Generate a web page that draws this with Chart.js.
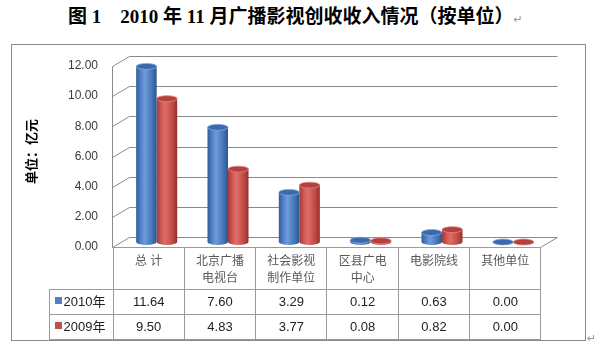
<!DOCTYPE html>
<html>
<head>
<meta charset="utf-8">
<script src="https://cdn.jsdelivr.net/npm/chart.js@4.4.0/dist/chart.umd.min.js"></script>
<style>
    body { margin: 0; background: #fff; width: 601px; height: 350px; overflow: hidden; position: relative; }
    #title { position: absolute; left: 68px; top: 4px; white-space: pre; font: bold 19px "Liberation Serif", "Noto Sans CJK SC", serif; color: #000; line-height: 26px; }
    .mark { font: 11px "DejaVu Sans", sans-serif; color: #999; font-weight: normal; }
    #box { position: absolute; left: 11px; top: 44px; width: 573px; height: 295px; border: 1px solid #8a8a8a; }
    #chart { position: absolute; left: 0; top: 0; }
    #endMark { position: absolute; left: 587px; top: 332px; }
    #tbl { position: absolute; border-collapse: collapse; table-layout: fixed; font-family: "Liberation Sans", "Noto Sans CJK SC", sans-serif; font-size: 12px; color: #222; }
    #tbl td { border: 1px solid #9a9a9a; text-align: center; padding: 0; overflow: hidden; white-space: nowrap; }
    #tbl tr.head td { height: 36px; vertical-align: top; color: #595959; line-height: 17px; padding-top: 5px; }
    #tbl tr.head td.blank { border-top: none; border-left: none; border-bottom: none; }
    #tbl tr.val td { height: 24px; line-height: 24px; font-size: 13px; }
    #tbl td.legend { text-align: left; padding-left: 5px; color: #222; }
    .swatch { display: inline-block; width: 7px; height: 7px; margin-right: 2px; vertical-align: 2px; }
</style>
</head>
<body>
<div id="title">图 1    2010 年 11 月广播影视创收收入情况（按单位）<span class="mark">↵</span></div>
<div id="box"></div>
<canvas id="chart" width="601" height="350"></canvas>
<table id="tbl"></table>
<div id="endMark" class="mark">↵</div>

<script>
const categories = [['总 计'], ['北京广播', '电视台'], ['社会影视', '制作单位'], ['区县广电', '中心'], ['电影院线'], ['其他单位']];
const seriesNames = ['2010年', '2009年'];
const values2010 = [11.64, 7.60, 3.29, 0.12, 0.63, 0.00];
const values2009 = [9.50, 4.83, 3.77, 0.08, 0.82, 0.00];
const yTicks = [0, 2, 4, 6, 8, 10, 12];
const yTitle = '单位：亿元';

const seriesColors = ['#4f81bd', '#c0504d'];
// cylinder shading, left to right
const shades = [
    ['#2e5c9a', '#5b8acf', '#6f9ad8', '#4474b8', '#2b5590'],
    ['#a33a37', '#d6605b', '#dc6d68', '#bf4944', '#922f2d']
];
const tops = [['#3b69ab', '#86abdf'], ['#b2413d', '#e48581']];

const CAT_PCT = 0.575;
const DX = 8.5;   // half depth of the 3D box
const DY = 5;

function barGradient(context) {
    const chart = context.chart;
    const xs = chart.scales.x;
    if (!xs || !xs.width) return seriesColors[context.datasetIndex];
    const cw = xs.width / categories.length;
    const bw = cw * CAT_PCT / 2;
    const cx = xs.getPixelForValue(context.dataIndex) + (context.datasetIndex === 0 ? -bw / 2 : bw / 2);
    const g = chart.ctx.createLinearGradient(cx - bw / 2, 0, cx + bw / 2, 0);
    const s = shades[context.datasetIndex];
    g.addColorStop(0, s[0]);
    g.addColorStop(0.28, s[1]);
    g.addColorStop(0.42, s[2]);
    g.addColorStop(0.78, s[3]);
    g.addColorStop(1, s[4]);
    return g;
}

// back wall, side wall and floor
const frame3d = {
    id: 'frame3d',
    beforeDatasetsDraw(chart) {
        const { ctx, scales: { x: xs, y: ys } } = chart;
        ctx.save();
        ctx.strokeStyle = '#8a8a8a';
        ctx.lineWidth = 1;
        yTicks.forEach(v => {
            const y = Math.round(ys.getPixelForValue(v)) + 0.5;
            ctx.beginPath();
            ctx.moveTo(xs.left - DX, y + DY);
            ctx.lineTo(xs.left + DX, y - DY);
            ctx.lineTo(xs.right + DX, y - DY);
            ctx.stroke();
        });
        const y0 = Math.round(ys.getPixelForValue(0)) + 0.5;
        const yTop = Math.round(ys.getPixelForValue(yTicks[yTicks.length - 1])) + 0.5;
        ctx.beginPath();
        ctx.moveTo(xs.left - DX, yTop + DY);
        ctx.lineTo(xs.left - DX, y0 + DY);
        ctx.lineTo(xs.right - DX, y0 + DY);
        ctx.lineTo(xs.right + DX, y0 - DY);
        ctx.stroke();
        ctx.restore();
    },
    afterDatasetsDraw(chart) {
        const ctx = chart.ctx;
        ctx.save();
        chart.data.datasets.forEach((ds, di) => {
            const meta = chart.getDatasetMeta(di);
            meta.data.forEach((bar, i) => {
                const { x, y, base, width } = bar.getProps(['x', 'y', 'base', 'width'], true);
                const rx = width / 2, ry = 3;
                const g = barGradient({ chart, dataIndex: i, datasetIndex: di });
                // rounded bottom
                ctx.beginPath();
                ctx.ellipse(x, base, rx, ry, 0, 0, Math.PI);
                ctx.fillStyle = g;
                ctx.fill();
                // top cap
                ctx.beginPath();
                ctx.ellipse(x, y, rx, ry, 0, 0, Math.PI * 2);
                ctx.fillStyle = tops[di][0];
                ctx.fill();
                ctx.strokeStyle = tops[di][1];
                ctx.lineWidth = 0.8;
                ctx.stroke();
            });
        });
        ctx.restore();
    }
};

const chart = new Chart(document.getElementById('chart'), {
    type: 'bar',
    data: {
        labels: categories,
        datasets: [
            { label: seriesNames[0], data: values2010, backgroundColor: barGradient, borderWidth: 0 },
            { label: seriesNames[1], data: values2009, backgroundColor: barGradient, borderWidth: 0 }
        ]
    },
    options: {
        responsive: false,
        animation: false,
        events: [],
        layout: { padding: { left: 0, top: 61, right: 52, bottom: 108 } },
        datasets: { bar: { categoryPercentage: CAT_PCT, barPercentage: 1.0 } },
        plugins: { legend: { display: false }, tooltip: { enabled: false } },
        scales: {
            x: { display: false },
            y: {
                min: 0,
                max: yTicks[yTicks.length - 1],
                afterBuildTicks: scale => { scale.ticks = yTicks.map(v => ({ value: v })); },
                afterFit: scale => { scale.width = 121; },
                grid: { display: false, drawTicks: false },
                border: { display: false },
                ticks: {
                    padding: 23,
                    labelOffset: DY,
                    color: '#3a3a3a',
                    font: { family: 'Liberation Sans', size: 12 },
                    callback: v => Number(v).toFixed(2)
                },
                title: {
                    display: true,
                    text: yTitle,
                    color: '#000',
                    font: { family: '"Liberation Serif", "Noto Sans CJK SC"', size: 13, weight: 'bold' },
                    padding: { top: 25, bottom: 0 }
                }
            }
        }
    },
    plugins: [frame3d]
});

// data table under the chart, lined up with the front of the floor
function buildTable() {
    const xs = chart.scales.x, ys = chart.scales.y;
    const colW = xs.width / categories.length;
    const legendW = 64;
    const tbl = document.getElementById('tbl');
    tbl.style.left = (xs.left - DX - legendW) + 'px';
    tbl.style.top = (Math.round(ys.getPixelForValue(0)) + DY) + 'px';
    tbl.style.width = (legendW + xs.width) + 'px';

    let html = '<colgroup><col style="width:' + legendW + 'px">';
    categories.forEach(() => { html += '<col style="width:' + colW + 'px">'; });
    html += '</colgroup><tr class="head"><td class="blank"></td>';
    categories.forEach(c => { html += '<td>' + c.join('<br>') + '</td>'; });
    html += '</tr>';
    [values2010, values2009].forEach((vals, si) => {
        html += '<tr class="val"><td class="legend"><span class="swatch" style="background:' + seriesColors[si] + '"></span>' + seriesNames[si] + '</td>';
        vals.forEach(v => { html += '<td>' + v.toFixed(2) + '</td>'; });
        html += '</tr>';
    });
    tbl.innerHTML = html;
}
buildTable();
</script>
</body>
</html>
